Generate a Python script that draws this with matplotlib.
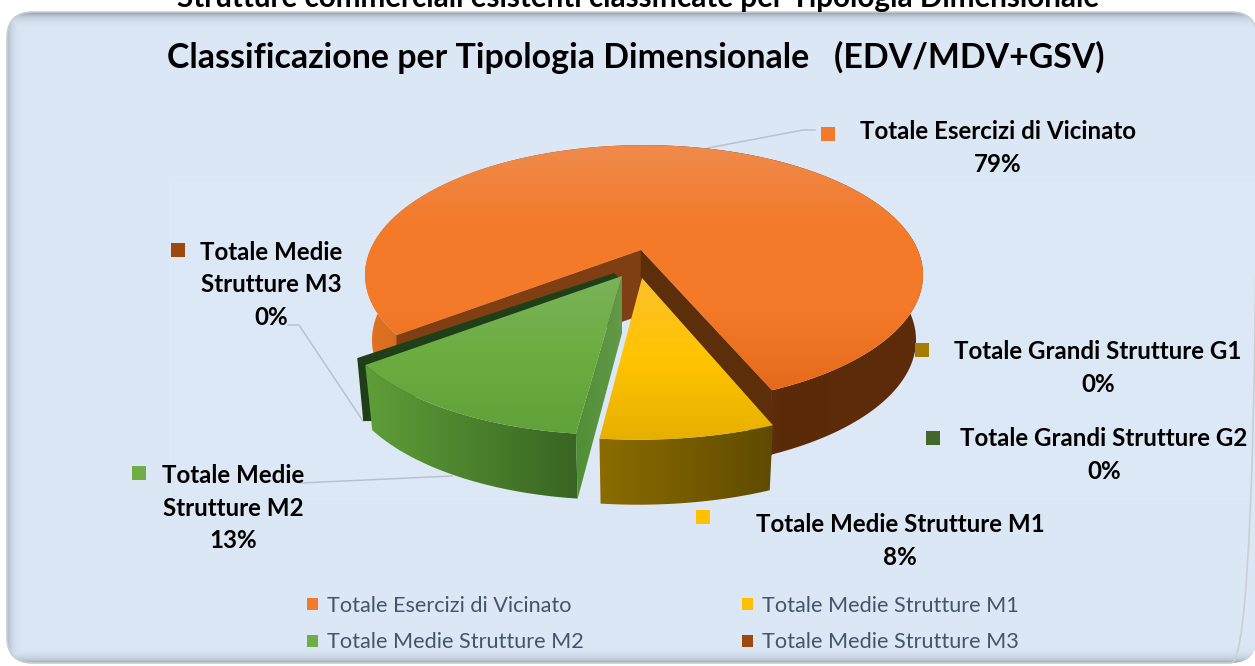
import numpy as np
import matplotlib
matplotlib.use("Agg")
import matplotlib.pyplot as plt
from matplotlib.colors import LinearSegmentedColormap, to_rgb
from matplotlib.patches import Polygon, FancyBboxPatch, Patch

# ---------- data ----------
categories = ["Totale Esercizi di Vicinato", "Totale Medie Strutture M1", "Totale Medie Strutture M2",
              "Totale Medie Strutture M3", "Totale Grandi Strutture G1", "Totale Grandi Strutture G2"]
values = [79, 8, 13, 0, 0, 0]
label_text = ["Totale Esercizi di Vicinato", "Totale Medie Strutture M1", "Totale Medie\nStrutture M2",
              "Totale Medie\nStrutture M3", "Totale Grandi Strutture G1", "Totale Grandi Strutture G2"]
legend_order = [0, 2, 1, 3]
outer_title = "Strutture commerciali esistenti classificate per Tipologia Dimensionale"
chart_title = "Classificazione per Tipologia Dimensionale   (EDV/MDV+GSV)"

# ---------- styling ----------
colors = ["#F4792B", "#FFC000", "#70AD47", "#9E480E", "#A67C00", "#43682B"]
top_grad = [["#EF8B4D", "#F47A29", "#F47A29", "#E56A1B"], ["#FDC02C", "#FFC400", "#E6B000"],
            ["#7CB35A", "#6BAD40", "#60A23A"]]
side_grad = [["#E27423", "#A95113", "#7A3A0E", "#5B2B09", "#5E2C09"], ["#8C6C00", "#5F4B00"], ["#5F9E38", "#386522"]]
wall_colors = ["#7F3F12", "#5C2E0A"]
label_pos = [(998, 148), (900, 541), (233, 508), (271, 285), (1098, 368), (1104, 455)]
marker_pos = [(828, 134), (703, 517), (139, 473), (178, 250), (922, 350), (933, 438)]
leaders = [[(708, 148), (803, 130), (815, 130)], [(300, 483), (452, 476)], [(363, 421), (299, 325), (288, 325)]]
legend_ink = "#44546A"
plt.rcParams["font.family"] = ["Lato", "DejaVu Sans"]

fig = plt.figure(figsize=(12.55, 6.66), dpi=100, facecolor="white")
ax = fig.add_axes([0, 0, 1, 1])
W, H = 1255, 666
ax.set_axis_off()


def gradient(poly, stops, horizontal=False, z=1):
    poly = np.asarray(poly)
    x0, y0 = poly.min(axis=0)
    x1, y1 = poly.max(axis=0)
    cm = LinearSegmentedColormap.from_list("g", stops)
    ramp = np.linspace(0, 1, 256)
    arr = ramp[None, :] if horizontal else ramp[:, None]
    im = ax.imshow(arr, cmap=cm, extent=(x0, x1, y1, y0), aspect="auto", zorder=z, interpolation="bilinear")
    clip = Polygon(poly, closed=True, transform=ax.transData, fc="none", ec="none")
    ax.add_patch(clip)
    im.set_clip_path(clip)


# ---------- panel with inner shadow ----------
px0, py0, px1, py1 = 7, 12, 1257, 663
yy, xx = np.mgrid[0:H, 0:W]
dist = np.minimum.reduce([xx - px0 + 2.0, yy - py0 + 0.0, py1 - yy + 0.0])
dist = np.clip(dist, 0, None)
bg = np.array(to_rgb("#DDE8F6"))
edge = np.array(to_rgb("#8F9BA8"))
mix = np.exp(-dist / 4.5)[..., None]
panel = bg * (1 - mix) + edge * mix
im = ax.imshow(panel, extent=(0, W, H, 0), aspect="auto", zorder=0)
box = FancyBboxPatch((px0, py0), px1 - px0, py1 - py0, boxstyle="round,pad=0,rounding_size=26",
                     fc="none", ec="#C9CED4", lw=1.2, transform=ax.transData, zorder=0.5)
ax.add_patch(box)
im.set_clip_path(box)

# ---------- perspective pie (circle -> ellipse through a homography) ----------
cx, A, c, a, b = 644.0, 273.8, -0.192, 77.0, 250.0
depth, shrink = 65.0, 0.975


def proj(theta_deg):
    t = np.radians(theta_deg)
    u, v = np.sin(t), -np.cos(t)
    w = 1 + c * v
    return np.column_stack([cx + A * u / w, (a * v + b) / w])


def lowered(pts):
    out = np.array(pts, dtype=float)
    out[:, 0] = cx + (out[:, 0] - cx) * shrink
    out[:, 1] += depth
    return out


start = 233.0
total = sum(values)
offsets = [np.array((0, 0)), np.array((-8, 35)), np.array((-31.5, 30))]
apexes = [np.array((641, 250)), np.array((642, 278)), np.array((622, 276))]
x_stretch = [1.0, 1.055, 1.0]
angle = start
spans = []
for val in values:
    spans.append((angle, angle + 360.0 * val / total))
    angle += 360.0 * val / total

for i in [0, 1, 2]:
    th0, th1 = spans[i]
    rim = proj(np.linspace(th0, th1, 240)) + offsets[i]
    anchor = rim[:, 0].min()
    rim[:, 0] = anchor + (rim[:, 0] - anchor) * x_stretch[i]
    z = 2 + i
    ap = apexes[i]
    if i == 2:
        # the zero-width G2 slice shows only as a dark sliver behind the green slice
        end = rim[-1] + (-8, -7)
        foot = lowered(rim[[-1]])[0]
        sliver = np.vstack([ap + (-8, -3), end, (foot[0] - 9, foot[1] - 9), (foot[0] - 1, foot[1] - 9), ap + (0, 5)])
        ax.add_patch(Polygon(sliver, closed=True, fc="#1F3F18", ec="none", zorder=z - 0.1))
    side = np.vstack([rim, lowered(rim)[::-1]])
    gradient(side, side_grad[i], horizontal=True, z=z)
    if i == 0:
        for end, col in zip([rim[0], rim[-1]], wall_colors):
            wall = np.vstack([ap, end, end + (0, depth), ap + (0, depth)])
            ax.add_patch(Polygon(wall, closed=True, fc=col, ec=col, lw=0.3, zorder=z + 0.1))
    if i == 2:
        # cut wall at the right of the green slice
        wall = np.vstack([ap, ap + (0, 57), lowered(rim[[0]])[0], rim[0]])
        gradient(wall, ["#4F8F34", "#64994A"], horizontal=True, z=z + 0.15)
    gradient(np.vstack([ap, rim]), top_grad[i], z=z + 0.2)

# ---------- leaders, markers, labels ----------
for line in leaders:
    xs, ys = zip(*line)
    ax.plot(xs, ys, color="#B9C2CC", lw=1.1, zorder=1.5)
for i, name in enumerate(label_text):
    mx, my = marker_pos[i]
    ax.scatter([mx], [my], marker="s", s=105, color=colors[i], zorder=8, linewidths=0)
    pct = 100 * values[i] / total
    ax.text(*label_pos[i], f"{name}\n{pct:.0f}%", ha="center", va="center", fontsize=17.4,
            fontweight="bold", color="black", linespacing=1.5, zorder=9)

ax.text(638, -2, outer_title, ha="center", va="center", fontsize=21.3, fontweight="bold", color="black", zorder=9)
ax.text(636, 57, chart_title, ha="center", va="center", fontsize=24.4, fontweight="bold", color="black", zorder=9)

handles = [Patch(facecolor=colors[i], edgecolor="none", label=categories[i]) for i in legend_order]
leg = ax.legend(handles=handles, ncol=2, loc="center", bbox_to_anchor=(663 / W, 1 - 624 / H), frameon=False,
                fontsize=15.6, labelcolor=legend_ink, handlelength=0.5, handleheight=0.5, handletextpad=0.42,
                columnspacing=7.3, labelspacing=0.78)
leg.set_zorder(9)

ax.set_xlim(0, W)
ax.set_ylim(H, 0)
fig.savefig("out.png", dpi=100, facecolor="white")
